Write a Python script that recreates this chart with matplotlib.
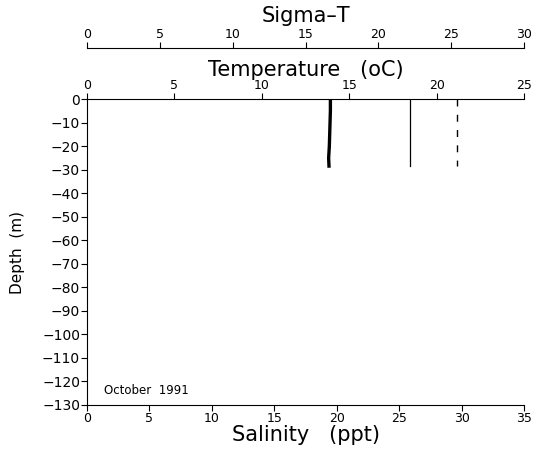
import matplotlib
matplotlib.use("Agg")
import matplotlib.pyplot as plt

# profile data, October 1991
depth = [0, -5, -10, -15, -20, -25, -28.5]
temperature = [13.92, 13.92, 13.9, 13.88, 13.86, 13.82, 13.84]
sigma_t = [22.15, 22.15, 22.15, 22.15, 22.15, 22.15, 22.15]
salinity = [29.65, 29.65, 29.65, 29.65, 29.65, 29.65, 29.65]

depth_ticks = list(range(0, -131, -10))
sal_ticks = list(range(0, 36, 5))
temp_ticks = list(range(0, 26, 5))
sig_ticks = list(range(0, 31, 5))

plt.rcParams['font.family'] = ['DejaVu Sans']
fig = plt.figure(figsize=(5.39, 4.49), dpi=100)
ax = fig.add_axes([0.1614, 0.098, 0.811, 0.6815])

# salinity (bottom axis)
ax.plot(salinity, depth, color='black', lw=1.0, dashes=(5, 6))
ax.set_xlim(0, 35)
ax.set_ylim(-130, 0)
ax.set_xticks(sal_ticks)
ax.set_yticks(depth_ticks)
ax.set_xlabel('Salinity   (ppt)', fontsize=15, labelpad=0)
ax.set_ylabel('Depth  (m)', fontsize=11, labelpad=12)
ax.tick_params(axis='x', direction='out', length=4, labelsize=9, pad=1)
ax.tick_params(axis='y', direction='out', length=4, labelsize=10, pad=1)
ax.spines['right'].set_visible(False)
ax.spines['top'].set_visible(False)
ax.text(0.04, 0.035, 'October  1991', transform=ax.transAxes, fontsize=8.5)

# temperature (top axis)
ax2 = ax.twiny()
ax2.plot(temperature, depth, color='black', lw=2.4)
ax2.set_xlim(0, 25)
ax2.set_xticks(temp_ticks)
ax2.set_xlabel('Temperature   (oC)', fontsize=15, labelpad=2)
ax2.tick_params(axis='x', direction='out', length=4, labelsize=9, pad=1)
for s in ['right', 'bottom', 'left']:
    ax2.spines[s].set_visible(False)

# sigma-t (offset top axis)
ax3 = ax.twiny()
ax3.plot(sigma_t, depth, color='black', lw=0.9)
ax3.set_xlim(0, 30)
ax3.set_xticks(sig_ticks)
ax3.set_xlabel('Sigma\u2013T', fontsize=15, labelpad=4)
ax3.spines['top'].set_position(('outward', 37))
ax3.tick_params(axis='x', direction='out', length=4, labelsize=9, pad=1)
for s in ['right', 'bottom', 'left']:
    ax3.spines[s].set_visible(False)

fig.savefig('out.png', dpi=100)
